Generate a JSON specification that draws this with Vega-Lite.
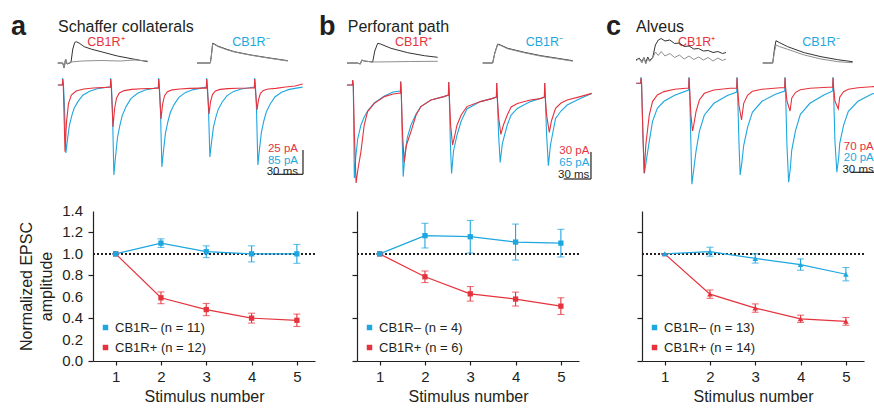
{
  "$schema": "https://vega.github.io/schema/vega-lite/v6.json",
  "padding": {"left": 10, "top": 0, "right": 5, "bottom": 3},
  "config": {
    "font": "Liberation Sans",
    "view": {"stroke": null},
    "axis": {"grid": false, "domainColor": "#231f20", "tickColor": "#231f20", "labelColor": "#231f20", "titleColor": "#231f20", "labelFontSize": 15, "titleFontSize": 16, "titleFontWeight": "normal", "labelFont": "Liberation Sans", "titleFont": "Liberation Sans", "tickSize": 4, "domainWidth": 1.2, "tickWidth": 1.2},
    "legend": {"symbolType": "square", "symbolSize": 30, "labelFontSize": 13, "labelColor": "#231f20", "labelFont": "Liberation Sans", "padding": 0, "rowPadding": 6, "labelOffset": 3, "symbolStrokeWidth": 0, "symbolOpacity": 1}
  },
  "datasets": {
    "a_r": [{"t":-5,"v":0},{"t":-0.3,"v":0},{"t":0,"v":0.3},{"t":0.6,"v":0},{"t":2.4,"v":-3.335},{"t":4,"v":-1.83},{"t":6,"v":-0.93},{"t":9,"v":-0.5},{"t":14,"v":-0.3},{"t":22,"v":-0.2},{"t":32,"v":-0.15},{"t":45,"v":-0.12},{"t":49.7,"v":-0.1},
      {"t":50,"v":0.3},{"t":50.6,"v":-0.1},{"t":52.4,"v":-2.1},{"t":54,"v":-1.2},{"t":56,"v":-0.66},{"t":59,"v":-0.4},{"t":64,"v":-0.28},{"t":72,"v":-0.22},{"t":82,"v":-0.19},{"t":95,"v":-0.17},{"t":99.7,"v":-0.15},
      {"t":100,"v":0.3},{"t":100.6,"v":-0.15},{"t":102.4,"v":-1.7},{"t":104,"v":-0.98},{"t":106,"v":-0.55},{"t":109,"v":-0.34},{"t":114,"v":-0.245},{"t":122,"v":-0.2},{"t":132,"v":-0.17},{"t":145,"v":-0.155},{"t":149.7,"v":-0.15},
      {"t":150,"v":0.3},{"t":150.6,"v":-0.15},{"t":152.4,"v":-1.45},{"t":154,"v":-0.84},{"t":156,"v":-0.48},{"t":159,"v":-0.3},{"t":164,"v":-0.22},{"t":172,"v":-0.18},{"t":182,"v":-0.16},{"t":195,"v":-0.15},{"t":199.7,"v":-0.14},
      {"t":200,"v":0.3},{"t":200.6,"v":-0.14},{"t":202.4,"v":-1.25},{"t":204,"v":-0.73},{"t":206,"v":-0.42},{"t":209,"v":-0.27},{"t":214,"v":-0.2},{"t":222,"v":-0.17},{"t":232,"v":-0.1},{"t":242,"v":-0.05},{"t":250,"v":0.05}],
    "a_b": [{"t":-5,"v":0},{"t":-0.3,"v":0},{"t":0,"v":0.35},{"t":0.8,"v":0},{"t":1.8,"v":-1.0},{"t":3.3,"v":-3.4},{"t":5,"v":-2.72},{"t":7,"v":-2.0},{"t":9.5,"v":-1.53},{"t":12,"v":-1.15},{"t":16,"v":-0.82},{"t":21,"v":-0.51},{"t":28,"v":-0.31},{"t":36,"v":-0.19},{"t":48,"v":-0.1},{"t":49.7,"v":-0.09},
      {"t":50,"v":0.35},{"t":50.8,"v":-0.09},{"t":51.8,"v":-1.2},{"t":53.3,"v":-4.5},{"t":55,"v":-3.6},{"t":57,"v":-2.65},{"t":59.5,"v":-2.03},{"t":62,"v":-1.53},{"t":66,"v":-1.08},{"t":71,"v":-0.68},{"t":78,"v":-0.41},{"t":86,"v":-0.25},{"t":98,"v":-0.14},{"t":99.7,"v":-0.13},
      {"t":100,"v":0.35},{"t":100.8,"v":-0.13},{"t":101.8,"v":-1.2},{"t":103.3,"v":-4.1},{"t":105,"v":-3.28},{"t":107,"v":-2.42},{"t":109.5,"v":-1.85},{"t":112,"v":-1.39},{"t":116,"v":-0.98},{"t":121,"v":-0.62},{"t":128,"v":-0.37},{"t":136,"v":-0.23},{"t":148,"v":-0.12},{"t":149.7,"v":-0.11},
      {"t":150,"v":0.35},{"t":150.8,"v":-0.11},{"t":151.8,"v":-1.1},{"t":153.3,"v":-3.6},{"t":155,"v":-2.88},{"t":157,"v":-2.12},{"t":159.5,"v":-1.62},{"t":162,"v":-1.22},{"t":166,"v":-0.86},{"t":171,"v":-0.54},{"t":178,"v":-0.32},{"t":186,"v":-0.2},{"t":198,"v":-0.11},{"t":199.7,"v":-0.1},
      {"t":200,"v":0.35},{"t":200.8,"v":-0.1},{"t":201.8,"v":-1.1},{"t":203.3,"v":-4.0},{"t":205,"v":-3.2},{"t":207,"v":-2.36},{"t":209.5,"v":-1.8},{"t":212,"v":-1.36},{"t":216,"v":-0.96},{"t":221,"v":-0.6},{"t":228,"v":-0.36},{"t":236,"v":-0.22},{"t":248,"v":-0.12},{"t":250,"v":-0.1}],
    "b_r": [{"t":-6,"v":0},{"t":-0.3,"v":0},{"t":0,"v":0.25},{"t":0.6,"v":0},{"t":1.8,"v":-2.5},{"t":3.5,"v":-4.9},{"t":5.5,"v":-4.2},{"t":8.6,"v":-3.33},{"t":12,"v":-2.0},{"t":15.5,"v":-1.33},{"t":22.5,"v":-0.92},{"t":33,"v":-0.58},{"t":42,"v":-0.45},{"t":49.7,"v":-0.4},
      {"t":50,"v":0.17},{"t":50.6,"v":-0.4},{"t":52,"v":-2.5},{"t":53.6,"v":-3.87},{"t":56,"v":-3.0},{"t":60.7,"v":-2.33},{"t":66,"v":-1.5},{"t":71,"v":-1.08},{"t":81.5,"v":-0.75},{"t":95,"v":-0.58},{"t":99.7,"v":-0.5},
      {"t":100,"v":0.15},{"t":100.6,"v":-0.5},{"t":102,"v":-2.0},{"t":104,"v":-3.0},{"t":106,"v":-2.6},{"t":108.7,"v":-2.0},{"t":113,"v":-1.5},{"t":119,"v":-1.08},{"t":133,"v":-0.83},{"t":145,"v":-0.68},{"t":149.7,"v":-0.6},
      {"t":150,"v":0.1},{"t":150.6,"v":-0.6},{"t":152,"v":-1.6},{"t":154.3,"v":-2.47},{"t":157,"v":-2.0},{"t":161,"v":-1.5},{"t":165,"v":-1.1},{"t":171.5,"v":-0.92},{"t":185,"v":-0.75},{"t":195.5,"v":-0.68},{"t":199.7,"v":-0.6},
      {"t":200,"v":0.1},{"t":200.6,"v":-0.6},{"t":202,"v":-1.5},{"t":204.8,"v":-2.37},{"t":207,"v":-1.8},{"t":211.3,"v":-1.17},{"t":217,"v":-0.9},{"t":223.4,"v":-0.75},{"t":237,"v":-0.58},{"t":249,"v":-0.42}],
    "b_b": [{"t":-6,"v":0},{"t":-0.3,"v":0},{"t":0,"v":0.25},{"t":0.6,"v":0},{"t":1.7,"v":-4.65},{"t":3.2,"v":-3.6},{"t":5.2,"v":-2.7},{"t":8.6,"v":-2.0},{"t":12,"v":-1.6},{"t":15.5,"v":-1.3},{"t":22.5,"v":-0.9},{"t":33,"v":-0.55},{"t":42,"v":-0.35},{"t":49.7,"v":-0.3},
      {"t":50,"v":0.17},{"t":50.6,"v":-0.3},{"t":51.5,"v":-2.5},{"t":52.6,"v":-4.58},{"t":54.5,"v":-3.4},{"t":57,"v":-2.6},{"t":60.7,"v":-2.0},{"t":66,"v":-1.45},{"t":71,"v":-1.08},{"t":81.5,"v":-0.75},{"t":95,"v":-0.58},{"t":99.7,"v":-0.5},
      {"t":100,"v":0.15},{"t":100.6,"v":-0.5},{"t":101.8,"v":-3.0},{"t":103,"v":-4.42},{"t":105,"v":-3.3},{"t":108.7,"v":-2.5},{"t":113,"v":-1.8},{"t":119,"v":-1.2},{"t":133,"v":-0.83},{"t":145,"v":-0.68},{"t":149.7,"v":-0.6},
      {"t":150,"v":0.1},{"t":150.6,"v":-0.6},{"t":152,"v":-2.5},{"t":153.6,"v":-3.87},{"t":156,"v":-2.9},{"t":161,"v":-2.0},{"t":165,"v":-1.5},{"t":171.5,"v":-1.17},{"t":185,"v":-0.83},{"t":195.5,"v":-0.68},{"t":199.7,"v":-0.6},
      {"t":200,"v":0.1},{"t":200.6,"v":-0.6},{"t":202,"v":-2.5},{"t":203.8,"v":-4.03},{"t":206,"v":-3.0},{"t":211.3,"v":-1.67},{"t":217,"v":-1.3},{"t":223.4,"v":-1.0},{"t":237,"v":-0.67},{"t":249,"v":-0.42}],
    "c_r": [{"t":-5,"v":0.085},{"t":-0.3,"v":0.085},{"t":0,"v":0.35},{"t":0.6,"v":0.085},{"t":2,"v":-2.5},{"t":3.3,"v":-4.415},{"t":5,"v":-3.0},{"t":8.6,"v":-1.5},{"t":12,"v":-0.83},{"t":17,"v":-0.5},{"t":24,"v":-0.33},{"t":35,"v":-0.215},{"t":49.7,"v":-0.15},
      {"t":50,"v":0.35},{"t":50.6,"v":-0.15},{"t":52,"v":-1.5},{"t":53.7,"v":-2.3},{"t":55,"v":-2.0},{"t":57.3,"v":-1.33},{"t":60.8,"v":-0.75},{"t":66,"v":-0.415},{"t":76,"v":-0.25},{"t":93,"v":-0.165},{"t":99.7,"v":-0.15},
      {"t":100,"v":0.35},{"t":100.6,"v":-0.15},{"t":102,"v":-1.0},{"t":104.7,"v":-1.75},{"t":107,"v":-0.915},{"t":111,"v":-0.515},{"t":116,"v":-0.315},{"t":126,"v":-0.215},{"t":145,"v":-0.14},{"t":149.7,"v":-0.13},
      {"t":150,"v":0.35},{"t":150.6,"v":-0.13},{"t":152,"v":-0.8},{"t":155.3,"v":-1.3},{"t":157,"v":-0.665},{"t":161,"v":-0.365},{"t":166,"v":-0.24},{"t":176,"v":-0.165},{"t":195,"v":-0.115},{"t":199.7,"v":-0.11},
      {"t":200,"v":0.35},{"t":200.6,"v":-0.11},{"t":202,"v":-0.8},{"t":205.5,"v":-1.2},{"t":207,"v":-0.615},{"t":211,"v":-0.34},{"t":216,"v":-0.215},{"t":226,"v":-0.14},{"t":240,"v":-0.09},{"t":250,"v":-0.05}],
    "c_b": [{"t":-5,"v":0.085},{"t":-0.3,"v":0.085},{"t":0,"v":0.4},{"t":0.6,"v":0.085},{"t":2,"v":-2.5},{"t":3.5,"v":-4.415},{"t":5.5,"v":-3.8},{"t":8.6,"v":-2.815},{"t":12,"v":-1.815},{"t":17,"v":-1.165},{"t":24,"v":-0.815},{"t":35,"v":-0.515},{"t":49.7,"v":-0.25},
      {"t":50,"v":0.4},{"t":50.6,"v":-0.25},{"t":52,"v":-3.0},{"t":53,"v":-4.965},{"t":55,"v":-4.2},{"t":57.3,"v":-3.315},{"t":60.8,"v":-2.315},{"t":66,"v":-1.5},{"t":76,"v":-0.915},{"t":90,"v":-0.53},{"t":99.7,"v":-0.35},
      {"t":100,"v":0.4},{"t":100.6,"v":-0.35},{"t":102,"v":-2.8},{"t":103.3,"v":-4.5},{"t":105,"v":-3.9},{"t":107,"v":-3.015},{"t":111,"v":-2.115},{"t":116,"v":-1.365},{"t":126,"v":-0.815},{"t":140,"v":-0.465},{"t":149.7,"v":-0.3},
      {"t":150,"v":0.4},{"t":150.6,"v":-0.3},{"t":152,"v":-3.0},{"t":153.8,"v":-4.865},{"t":155.5,"v":-4.2},{"t":157,"v":-3.265},{"t":161,"v":-2.265},{"t":166,"v":-1.465},{"t":176,"v":-0.915},{"t":190,"v":-0.515},{"t":199.7,"v":-0.3},
      {"t":200,"v":0.4},{"t":200.6,"v":-0.3},{"t":202,"v":-2.8},{"t":204,"v":-4.365},{"t":206,"v":-3.6},{"t":207,"v":-2.915},{"t":211,"v":-2.015},{"t":216,"v":-1.315},{"t":226,"v":-0.815},{"t":240,"v":-0.465},{"t":250,"v":-0.3}],
    "a_i": [{"k":"+d","t":-5.2,"u":0},{"k":"+d","t":0,"u":0},{"k":"+d","t":1.5,"u":-0.5},{"k":"+d","t":3,"u":0.4},{"k":"+d","t":4.5,"u":-0.1},{"k":"+d","t":8.6,"u":0.05},{"k":"+d","t":10.5,"u":1.4},{"k":"+d","t":12.5,"u":2.05},{"k":"+d","t":14,"u":2.13},{"k":"+d","t":17,"u":2.0},{"k":"+d","t":22.5,"u":1.63},{"k":"+d","t":30,"u":1.38},{"k":"+d","t":40,"u":1.13},{"k":"+d","t":57,"u":0.7},{"k":"+d","t":75,"u":0.37},{"k":"+d","t":88.5,"u":0.13},
      {"k":"+l","t":-5.2,"u":0},{"k":"+l","t":0,"u":0},{"k":"+l","t":1.5,"u":-0.5},{"k":"+l","t":3,"u":0.4},{"k":"+l","t":4.5,"u":-0.1},{"k":"+l","t":8.6,"u":0.1},{"k":"+l","t":20,"u":0.2},{"k":"+l","t":40,"u":0.25},{"k":"+l","t":60,"u":0.2},{"k":"+l","t":75,"u":0.3},{"k":"+l","t":88.5,"u":0.2},
      {"k":"-d","t":139.9,"u":0},{"k":"-d","t":153.8,"u":0},{"k":"-d","t":155,"u":0.9},{"k":"-d","t":156.2,"u":1.97},{"k":"-d","t":158,"u":1.9},{"k":"-d","t":161.5,"u":1.7},{"k":"-d","t":170,"u":1.4},{"k":"-d","t":178.8,"u":1.13},{"k":"-d","t":196,"u":0.8},{"k":"-d","t":213.5,"u":0.53},{"k":"-d","t":234.4,"u":0.23},
      {"k":"-l","t":139.9,"u":0},{"k":"-l","t":153.8,"u":0},{"k":"-l","t":155,"u":0.8},{"k":"-l","t":156.2,"u":1.9},{"k":"-l","t":158,"u":1.85},{"k":"-l","t":161.5,"u":1.65},{"k":"-l","t":170,"u":1.35},{"k":"-l","t":178.8,"u":1.1},{"k":"-l","t":196,"u":0.78},{"k":"-l","t":213.5,"u":0.5},{"k":"-l","t":234.4,"u":0.2}],
    "b_i": [{"k":"+d","t":-5.9,"u":0},{"k":"+d","t":5,"u":0},{"k":"+d","t":8,"u":-0.1},{"k":"+d","t":9.5,"u":0.3},{"k":"+d","t":12,"u":0.2},{"k":"+d","t":20.8,"u":0.1},{"k":"+d","t":23,"u":1.2},{"k":"+d","t":26,"u":1.97},{"k":"+d","t":29,"u":1.9},{"k":"+d","t":39.9,"u":1.47},{"k":"+d","t":57.3,"u":1.03},{"k":"+d","t":74.6,"u":0.73},{"k":"+d","t":88.5,"u":0.57},
      {"k":"+l","t":-5.9,"u":0},{"k":"+l","t":5,"u":0},{"k":"+l","t":8,"u":-0.1},{"k":"+l","t":9.5,"u":0.3},{"k":"+l","t":12,"u":0.2},{"k":"+l","t":20.8,"u":0.1},{"k":"+l","t":40,"u":0.12},{"k":"+l","t":60,"u":0.15},{"k":"+l","t":88.5,"u":0.17},
      {"k":"-d","t":135.4,"u":0},{"k":"-d","t":145.8,"u":0},{"k":"-d","t":148,"u":1.0},{"k":"-d","t":151,"u":1.9},{"k":"-d","t":154,"u":1.8},{"k":"-d","t":161.5,"u":1.47},{"k":"-d","t":178.8,"u":1.07},{"k":"-d","t":196,"u":0.73},{"k":"-d","t":213.5,"u":0.47},{"k":"-d","t":229.2,"u":0.23},
      {"k":"-l","t":135.4,"u":0},{"k":"-l","t":145.8,"u":0},{"k":"-l","t":148,"u":0.95},{"k":"-l","t":151,"u":1.85},{"k":"-l","t":154,"u":1.75},{"k":"-l","t":161.5,"u":1.42},{"k":"-l","t":178.8,"u":1.02},{"k":"-l","t":196,"u":0.68},{"k":"-l","t":213.5,"u":0.42},{"k":"-l","t":229.2,"u":0.18}],
    "c_i": [{"k":"+d","t":-5.2,"u":0.3},{"k":"+d","t":-2,"u":0.5},{"k":"+d","t":1,"u":0.15},{"k":"+d","t":3,"u":0.55},{"k":"+d","t":5,"u":0.05},{"k":"+d","t":7,"u":0.6},{"k":"+d","t":9,"u":0.25},{"k":"+d","t":12.2,"u":0.55},{"k":"+d","t":15,"u":1.8},{"k":"+d","t":18,"u":2.3},{"k":"+d","t":21,"u":2.45},{"k":"+d","t":25,"u":2.2},{"k":"+d","t":30,"u":2.3},{"k":"+d","t":35,"u":1.95},{"k":"+d","t":40,"u":2.0},{"k":"+d","t":45,"u":1.65},{"k":"+d","t":50,"u":1.7},{"k":"+d","t":55,"u":1.4},{"k":"+d","t":60,"u":1.45},{"k":"+d","t":65,"u":1.2},{"k":"+d","t":70,"u":1.25},{"k":"+d","t":75,"u":1.05},{"k":"+d","t":80,"u":1.15},{"k":"+d","t":85,"u":0.95},{"k":"+d","t":88.5,"u":1.05},
      {"k":"+l","t":-5.2,"u":0.2},{"k":"+l","t":-2,"u":0.45},{"k":"+l","t":1,"u":0.0},{"k":"+l","t":3,"u":0.5},{"k":"+l","t":5,"u":-0.1},{"k":"+l","t":7,"u":0.45},{"k":"+l","t":9,"u":0.15},{"k":"+l","t":12.2,"u":0.5},{"k":"+l","t":15,"u":1.1},{"k":"+l","t":18,"u":0.75},{"k":"+l","t":21,"u":1.15},{"k":"+l","t":25,"u":0.7},{"k":"+l","t":30,"u":0.95},{"k":"+l","t":35,"u":0.55},{"k":"+l","t":40,"u":0.8},{"k":"+l","t":45,"u":0.4},{"k":"+l","t":50,"u":0.7},{"k":"+l","t":55,"u":0.35},{"k":"+l","t":60,"u":0.6},{"k":"+l","t":65,"u":0.3},{"k":"+l","t":70,"u":0.55},{"k":"+l","t":75,"u":0.2},{"k":"+l","t":80,"u":0.5},{"k":"+l","t":85,"u":0.25},{"k":"+l","t":88.5,"u":0.4},
      {"k":"-d","t":126.8,"u":0},{"k":"-d","t":137.2,"u":0},{"k":"-d","t":139,"u":1.4},{"k":"-d","t":140.6,"u":2.23},{"k":"-d","t":144,"u":2.05},{"k":"-d","t":152.8,"u":1.63},{"k":"-d","t":170.1,"u":1.03},{"k":"-d","t":187.5,"u":0.63},{"k":"-d","t":204.9,"u":0.33},{"k":"-d","t":220.5,"u":0.13},
      {"k":"-l","t":126.8,"u":0},{"k":"-l","t":137.2,"u":0},{"k":"-l","t":139,"u":1.1},{"k":"-l","t":140.6,"u":1.8},{"k":"-l","t":144,"u":1.65},{"k":"-l","t":152.8,"u":1.37},{"k":"-l","t":170.1,"u":0.8},{"k":"-l","t":187.5,"u":0.4},{"k":"-l","t":204.9,"u":0.13},{"k":"-l","t":220.5,"u":0.03}],
    "yticks": [{"val": 0, "lab": "0.0"}, {"val": 0.2, "lab": "0.2"}, {"val": 0.4, "lab": "0.4"}, {"val": 0.6, "lab": "0.6"}, {"val": 0.8, "lab": "0.8"}, {"val": 1.0, "lab": "1.0"}, {"val": 1.2, "lab": "1.2"}, {"val": 1.4, "lab": "1.4"}],
    "a_ep": [{"g":"CB1R+ (n = 12)","s":1,"m":1.0,"e":0},{"g":"CB1R+ (n = 12)","s":2,"m":0.59,"e":0.055},{"g":"CB1R+ (n = 12)","s":3,"m":0.48,"e":0.057},{"g":"CB1R+ (n = 12)","s":4,"m":0.40,"e":0.046},{"g":"CB1R+ (n = 12)","s":5,"m":0.38,"e":0.058},
      {"g":"CB1R– (n = 11)","s":1,"m":1.0,"e":0},{"g":"CB1R– (n = 11)","s":2,"m":1.10,"e":0.04},{"g":"CB1R– (n = 11)","s":3,"m":1.02,"e":0.055},{"g":"CB1R– (n = 11)","s":4,"m":1.0,"e":0.075},{"g":"CB1R– (n = 11)","s":5,"m":1.0,"e":0.088}],
    "b_ep": [{"g":"CB1R+ (n = 6)","s":1,"m":1.0,"e":0},{"g":"CB1R+ (n = 6)","s":2,"m":0.786,"e":0.054},{"g":"CB1R+ (n = 6)","s":3,"m":0.627,"e":0.068},{"g":"CB1R+ (n = 6)","s":4,"m":0.578,"e":0.065},{"g":"CB1R+ (n = 6)","s":5,"m":0.512,"e":0.078},
      {"g":"CB1R– (n = 4)","s":1,"m":1.0,"e":0},{"g":"CB1R– (n = 4)","s":2,"m":1.17,"e":0.115},{"g":"CB1R– (n = 4)","s":3,"m":1.16,"e":0.152},{"g":"CB1R– (n = 4)","s":4,"m":1.11,"e":0.168},{"g":"CB1R– (n = 4)","s":5,"m":1.10,"e":0.129}],
    "c_ep": [{"g":"CB1R+ (n = 14)","s":1,"m":1.0,"e":0},{"g":"CB1R+ (n = 14)","s":2,"m":0.624,"e":0.039},{"g":"CB1R+ (n = 14)","s":3,"m":0.494,"e":0.039},{"g":"CB1R+ (n = 14)","s":4,"m":0.394,"e":0.034},{"g":"CB1R+ (n = 14)","s":5,"m":0.37,"e":0.036},
      {"g":"CB1R– (n = 13)","s":1,"m":1.0,"e":0},{"g":"CB1R– (n = 13)","s":2,"m":1.02,"e":0.042},{"g":"CB1R– (n = 13)","s":3,"m":0.957,"e":0.043},{"g":"CB1R– (n = 13)","s":4,"m":0.90,"e":0.053},{"g":"CB1R– (n = 13)","s":5,"m":0.81,"e":0.062}]
  },
  "columns": 3,
  "spacing": {"row": 21, "column": 20},
  "bounds": "flush",
  "align": "each",
  "resolve": {"scale": {"color": "independent"}, "legend": {"color": "independent"}},
  "concat": [
    {
      "width": 244, "height": 190,
      "layer": [
        {"layer": [
          {"data": {"name": "a_b"}, "mark": {"type": "line", "color": "#1ea7de", "strokeWidth": 1.1}, "encoding": {"x": {"field": "t", "type": "quantitative", "scale": {"domain": [31.56, 285.73], "nice": false, "zero": false}, "axis": null}, "y": {"field": "v", "type": "quantitative", "scale": {"domain": [-5.25, 4.25], "nice": false, "zero": false}, "axis": null}}},
          {"data": {"name": "a_r"}, "mark": {"type": "line", "color": "#e5333d", "strokeWidth": 1.1}, "encoding": {"x": {"field": "t", "type": "quantitative", "axis": null}, "y": {"field": "v", "type": "quantitative", "axis": null}}},
          {"data": {"values": [{}]}, "mark": {"type": "text", "text": "a", "fontSize": 27, "fontWeight": "bold", "align": "left", "color": "#231f20"}, "encoding": {"x": {"datum": -53.9, "type": "quantitative", "axis": null}, "y": {"datum": 2.9, "type": "quantitative", "axis": null}}},
          {"data": {"values": [{}]}, "mark": {"type": "text", "text": "Schaffer collaterals", "fontSize": 16, "align": "left", "color": "#231f20"}, "encoding": {"x": {"datum": -4.9, "type": "quantitative", "axis": null}, "y": {"datum": 2.9, "type": "quantitative", "axis": null}}},
          {"data": {"values": [{}]}, "mark": {"type": "text", "text": "CB1R⁺", "fontSize": 12.5, "align": "center", "color": "#e5333d"}, "encoding": {"x": {"datum": 45, "type": "quantitative", "axis": null}, "y": {"datum": 2.15, "type": "quantitative", "axis": null}}},
          {"data": {"values": [{}]}, "mark": {"type": "text", "text": "CB1R⁻", "fontSize": 12.5, "align": "center", "color": "#1ea7de"}, "encoding": {"x": {"datum": 196.1, "type": "quantitative", "axis": null}, "y": {"datum": 2.15, "type": "quantitative", "axis": null}}},
          {"data": {"values": [{}]}, "mark": {"type": "text", "text": "25 pA", "fontSize": 11.5, "align": "right", "color": "#e5333d"}, "encoding": {"x": {"datum": 245.1, "type": "quantitative", "axis": null}, "y": {"datum": -3.2, "type": "quantitative", "axis": null}}},
          {"data": {"values": [{}]}, "mark": {"type": "text", "text": "85 pA", "fontSize": 11.5, "align": "right", "color": "#1ea7de"}, "encoding": {"x": {"datum": 245.1, "type": "quantitative", "axis": null}, "y": {"datum": -3.78, "type": "quantitative", "axis": null}}},
          {"data": {"values": [{}]}, "mark": {"type": "text", "text": "30 ms", "fontSize": 11.5, "align": "right", "color": "#231f20"}, "encoding": {"x": {"datum": 245.1, "type": "quantitative", "axis": null}, "y": {"datum": -4.36, "type": "quantitative", "axis": null}}},
          {"data": {"values": [{}]}, "mark": {"type": "rule", "color": "#231f20", "strokeWidth": 1.2}, "encoding": {"x": {"datum": 219.1, "type": "quantitative", "axis": null}, "x2": {"datum": 250.3}, "y": {"datum": -4.465, "type": "quantitative", "axis": null}}},
          {"data": {"values": [{}]}, "mark": {"type": "rule", "color": "#231f20", "strokeWidth": 1.2}, "encoding": {"x": {"datum": 250.3, "type": "quantitative", "axis": null}, "y": {"datum": -3.25, "type": "quantitative", "axis": null}, "y2": {"datum": -4.465}}}
        ]},
        {"data": {"name": "a_i"}, "mark": {"type": "line", "strokeWidth": 1}, "encoding": {"x": {"field": "t", "type": "quantitative", "scale": {"domain": [31.56, 285.73], "nice": false, "zero": false}, "axis": null}, "y": {"field": "u", "type": "quantitative", "scale": {"domain": [-12.7, 6.3], "nice": false, "zero": false}, "axis": null}, "color": {"field": "k", "type": "nominal", "scale": {"domain": ["+l", "+d", "-l", "-d"], "range": ["#8f8f8f", "#333333", "#8f8f8f", "#333333"]}, "legend": null}}}
      ],
      "resolve": {"scale": {"y": "independent"}}
    },
    {
      "width": 265, "height": 190,
      "layer": [
        {"layer": [
          {"data": {"name": "b_b"}, "mark": {"type": "line", "color": "#1ea7de", "strokeWidth": 1.1}, "encoding": {"x": {"field": "t", "type": "quantitative", "scale": {"domain": [4.48, 280.52], "nice": false, "zero": false}, "axis": null}, "y": {"field": "v", "type": "quantitative", "scale": {"domain": [-5.25, 4.25], "nice": false, "zero": false}, "axis": null}}},
          {"data": {"name": "b_r"}, "mark": {"type": "line", "color": "#e5333d", "strokeWidth": 1.1}, "encoding": {"x": {"field": "t", "type": "quantitative", "axis": null}, "y": {"field": "v", "type": "quantitative", "axis": null}}},
          {"data": {"values": [{}]}, "mark": {"type": "text", "text": "b", "fontSize": 27, "fontWeight": "bold", "align": "left", "color": "#231f20"}, "encoding": {"x": {"datum": -35.1, "type": "quantitative", "axis": null}, "y": {"datum": 2.9, "type": "quantitative", "axis": null}}},
          {"data": {"values": [{}]}, "mark": {"type": "text", "text": "Perforant path", "fontSize": 16, "align": "left", "color": "#231f20"}, "encoding": {"x": {"datum": -5.2, "type": "quantitative", "axis": null}, "y": {"datum": 2.9, "type": "quantitative", "axis": null}}},
          {"data": {"values": [{}]}, "mark": {"type": "text", "text": "CB1R⁺", "fontSize": 12.5, "align": "center", "color": "#e5333d"}, "encoding": {"x": {"datum": 63.5, "type": "quantitative", "axis": null}, "y": {"datum": 2.15, "type": "quantitative", "axis": null}}},
          {"data": {"values": [{}]}, "mark": {"type": "text", "text": "CB1R⁻", "fontSize": 12.5, "align": "center", "color": "#1ea7de"}, "encoding": {"x": {"datum": 199.6, "type": "quantitative", "axis": null}, "y": {"datum": 2.15, "type": "quantitative", "axis": null}}},
          {"data": {"values": [{}]}, "mark": {"type": "text", "text": "30 pA", "fontSize": 11.5, "align": "right", "color": "#e5333d"}, "encoding": {"x": {"datum": 246.5, "type": "quantitative", "axis": null}, "y": {"datum": -3.3, "type": "quantitative", "axis": null}}},
          {"data": {"values": [{}]}, "mark": {"type": "text", "text": "65 pA", "fontSize": 11.5, "align": "right", "color": "#1ea7de"}, "encoding": {"x": {"datum": 246.5, "type": "quantitative", "axis": null}, "y": {"datum": -3.9, "type": "quantitative", "axis": null}}},
          {"data": {"values": [{}]}, "mark": {"type": "text", "text": "30 ms", "fontSize": 11.5, "align": "right", "color": "#231f20"}, "encoding": {"x": {"datum": 246.5, "type": "quantitative", "axis": null}, "y": {"datum": -4.5, "type": "quantitative", "axis": null}}},
          {"data": {"values": [{}]}, "mark": {"type": "rule", "color": "#231f20", "strokeWidth": 1.2}, "encoding": {"x": {"datum": 219.8, "type": "quantitative", "axis": null}, "x2": {"datum": 248.2}, "y": {"datum": -4.7, "type": "quantitative", "axis": null}}},
          {"data": {"values": [{}]}, "mark": {"type": "rule", "color": "#231f20", "strokeWidth": 1.2}, "encoding": {"x": {"datum": 248.2, "type": "quantitative", "axis": null}, "y": {"datum": -3.35, "type": "quantitative", "axis": null}, "y2": {"datum": -4.7}}}
        ]},
        {"data": {"name": "b_i"}, "mark": {"type": "line", "strokeWidth": 1}, "encoding": {"x": {"field": "t", "type": "quantitative", "scale": {"domain": [4.48, 280.52], "nice": false, "zero": false}, "axis": null}, "y": {"field": "u", "type": "quantitative", "scale": {"domain": [-12.7, 6.3], "nice": false, "zero": false}, "axis": null}, "color": {"field": "k", "type": "nominal", "scale": {"domain": ["+l", "+d", "-l", "-d"], "range": ["#8f8f8f", "#333333", "#8f8f8f", "#333333"]}, "legend": null}}}
      ],
      "resolve": {"scale": {"y": "independent"}}
    },
    {
      "width": 222, "height": 190,
      "layer": [
        {"layer": [
          {"data": {"name": "c_b"}, "mark": {"type": "line", "color": "#1ea7de", "strokeWidth": 1.1}, "encoding": {"x": {"field": "t", "type": "quantitative", "scale": {"domain": [1.04, 232.29], "nice": false, "zero": false}, "axis": null}, "y": {"field": "v", "type": "quantitative", "scale": {"domain": [-5.25, 4.25], "nice": false, "zero": false}, "axis": null}}},
          {"data": {"name": "c_r"}, "mark": {"type": "line", "color": "#e5333d", "strokeWidth": 1.1}, "encoding": {"x": {"field": "t", "type": "quantitative", "axis": null}, "y": {"field": "v", "type": "quantitative", "axis": null}}},
          {"data": {"values": [{}]}, "mark": {"type": "text", "text": "c", "fontSize": 27, "fontWeight": "bold", "align": "left", "color": "#231f20"}, "encoding": {"x": {"datum": -36.5, "type": "quantitative", "axis": null}, "y": {"datum": 2.9, "type": "quantitative", "axis": null}}},
          {"data": {"values": [{}]}, "mark": {"type": "text", "text": "Alveus", "fontSize": 16, "align": "left", "color": "#231f20"}, "encoding": {"x": {"datum": -5.2, "type": "quantitative", "axis": null}, "y": {"datum": 2.9, "type": "quantitative", "axis": null}}},
          {"data": {"values": [{}]}, "mark": {"type": "text", "text": "CB1R⁺", "fontSize": 12.5, "align": "center", "color": "#e5333d"}, "encoding": {"x": {"datum": 58, "type": "quantitative", "axis": null}, "y": {"datum": 2.15, "type": "quantitative", "axis": null}}},
          {"data": {"values": [{}]}, "mark": {"type": "text", "text": "CB1R⁻", "fontSize": 12.5, "align": "center", "color": "#1ea7de"}, "encoding": {"x": {"datum": 187.5, "type": "quantitative", "axis": null}, "y": {"datum": 2.15, "type": "quantitative", "axis": null}}},
          {"data": {"values": [{}]}, "mark": {"type": "text", "text": "70 pA", "fontSize": 11.5, "align": "right", "color": "#e5333d"}, "encoding": {"x": {"datum": 242.5, "type": "quantitative", "axis": null}, "y": {"datum": -3.1, "type": "quantitative", "axis": null}}},
          {"data": {"values": [{}]}, "mark": {"type": "text", "text": "20 pA", "fontSize": 11.5, "align": "right", "color": "#1ea7de"}, "encoding": {"x": {"datum": 242.5, "type": "quantitative", "axis": null}, "y": {"datum": -3.67, "type": "quantitative", "axis": null}}},
          {"data": {"values": [{}]}, "mark": {"type": "text", "text": "30 ms", "fontSize": 11.5, "align": "right", "color": "#231f20"}, "encoding": {"x": {"datum": 242.5, "type": "quantitative", "axis": null}, "y": {"datum": -4.24, "type": "quantitative", "axis": null}}},
          {"data": {"values": [{}]}, "mark": {"type": "rule", "color": "#231f20", "strokeWidth": 1.2}, "encoding": {"x": {"datum": 218.75, "type": "quantitative", "axis": null}, "x2": {"datum": 250}, "y": {"datum": -4.365, "type": "quantitative", "axis": null}}},
          {"data": {"values": [{}]}, "mark": {"type": "rule", "color": "#231f20", "strokeWidth": 1.2}, "encoding": {"x": {"datum": 250, "type": "quantitative", "axis": null}, "y": {"datum": -3.14, "type": "quantitative", "axis": null}, "y2": {"datum": -4.365}}}
        ]},
        {"data": {"name": "c_i"}, "mark": {"type": "line", "strokeWidth": 1}, "encoding": {"x": {"field": "t", "type": "quantitative", "scale": {"domain": [1.04, 232.29], "nice": false, "zero": false}, "axis": null}, "y": {"field": "u", "type": "quantitative", "scale": {"domain": [-12.7, 6.3], "nice": false, "zero": false}, "axis": null}, "color": {"field": "k", "type": "nominal", "scale": {"domain": ["+l", "+d", "-l", "-d"], "range": ["#8f8f8f", "#333333", "#8f8f8f", "#333333"]}, "legend": null}}}
      ],
      "resolve": {"scale": {"y": "independent"}}
    },
    {
      "width": 222, "height": 150,
      "data": {"name": "a_ep"},
      "layer": [
        {"mark": {"type": "rule", "strokeDash": [1.5, 2.5], "color": "#231f20", "strokeWidth": 1.1}, "encoding": {"y": {"datum": 1, "type": "quantitative", "title": ["Normalized EPSC", "amplitude"], "scale": {"domain": [0, 1.4], "nice": false, "zero": false}, "axis": {"values": [0, 0.2, 0.4, 0.6, 0.8, 1.0, 1.2, 1.4], "labels": false, "tickSize": 5, "titlePadding": 33, "titleLineHeight": 20}}}},
        {"data": {"name": "yticks"}, "mark": {"type": "text", "align": "right", "baseline": "middle", "fontSize": 15, "color": "#231f20"}, "encoding": {"x": {"datum": 0.279, "type": "quantitative"}, "y": {"field": "val", "type": "quantitative", "title": ["Normalized EPSC", "amplitude"]}, "text": {"field": "lab", "type": "nominal"}}},
        {"mark": {"type": "line", "strokeWidth": 1.2}, "encoding": {
          "x": {"field": "s", "type": "quantitative", "title": "Stimulus number", "scale": {"domain": [0.5, 5.4], "nice": false, "zero": false}, "axis": {"values": [1, 2, 3, 4, 5], "format": "d", "labelPadding": 4, "titlePadding": 4}},
          "y": {"field": "m", "type": "quantitative", "title": ["Normalized EPSC", "amplitude"]},
          "color": {"field": "g", "type": "nominal", "scale": {"domain": ["CB1R– (n = 11)", "CB1R+ (n = 12)"], "range": ["#1ea7de", "#e5333d"]}}}},
        {"mark": {"type": "errorbar", "ticks": true, "size": 7, "thickness": 1.1}, "encoding": {"x": {"field": "s", "type": "quantitative", "title": "Stimulus number"}, "y": {"field": "m", "type": "quantitative", "title": ["Normalized EPSC", "amplitude"]}, "yError": {"field": "e"}, "color": {"field": "g", "type": "nominal"}}},
        {"mark": {"type": "point", "filled": true, "shape": "square", "size": 28, "opacity": 1}, "encoding": {"x": {"field": "s", "type": "quantitative", "title": "Stimulus number"}, "y": {"field": "m", "type": "quantitative", "title": ["Normalized EPSC", "amplitude"]}, "color": {"field": "g", "type": "nominal", "legend": {"title": null, "orient": "bottom-left", "offset": 6, "symbolType": "square"}}}}
      ]
    },
    {
      "width": 222, "height": 150,
      "data": {"name": "b_ep"},
      "layer": [
        {"mark": {"type": "rule", "strokeDash": [1.5, 2.5], "color": "#231f20", "strokeWidth": 1.1}, "encoding": {"y": {"datum": 1, "type": "quantitative", "title": null, "scale": {"domain": [0, 1.4], "nice": false, "zero": false}, "axis": {"values": [0, 0.2, 0.4, 0.6, 0.8, 1.0, 1.2, 1.4], "labels": false, "tickSize": 5}}}},
        {"mark": {"type": "line", "strokeWidth": 1.2}, "encoding": {
          "x": {"field": "s", "type": "quantitative", "title": "Stimulus number", "scale": {"domain": [0.5, 5.4], "nice": false, "zero": false}, "axis": {"values": [1, 2, 3, 4, 5], "format": "d", "labelPadding": 4, "titlePadding": 4}},
          "y": {"field": "m", "type": "quantitative", "title": null},
          "color": {"field": "g", "type": "nominal", "scale": {"domain": ["CB1R– (n = 4)", "CB1R+ (n = 6)"], "range": ["#1ea7de", "#e5333d"]}}}},
        {"mark": {"type": "errorbar", "ticks": true, "size": 7, "thickness": 1.1}, "encoding": {"x": {"field": "s", "type": "quantitative", "title": "Stimulus number"}, "y": {"field": "m", "type": "quantitative", "title": null}, "yError": {"field": "e"}, "color": {"field": "g", "type": "nominal"}}},
        {"mark": {"type": "point", "filled": true, "shape": "square", "size": 28, "opacity": 1}, "encoding": {"x": {"field": "s", "type": "quantitative", "title": "Stimulus number"}, "y": {"field": "m", "type": "quantitative", "title": null}, "color": {"field": "g", "type": "nominal", "legend": {"title": null, "orient": "bottom-left", "offset": 6, "symbolType": "square"}}}}
      ]
    },
    {
      "width": 222, "height": 150,
      "data": {"name": "c_ep"},
      "layer": [
        {"mark": {"type": "rule", "strokeDash": [1.5, 2.5], "color": "#231f20", "strokeWidth": 1.1}, "encoding": {"y": {"datum": 1, "type": "quantitative", "title": null, "scale": {"domain": [0, 1.4], "nice": false, "zero": false}, "axis": {"values": [0, 0.1, 0.2, 0.3, 0.4, 0.5, 0.6, 0.7, 0.8, 0.9, 1.0, 1.1, 1.2, 1.3, 1.4], "labels": false, "tickSize": 5}}}},
        {"mark": {"type": "line", "strokeWidth": 1.2}, "encoding": {
          "x": {"field": "s", "type": "quantitative", "title": "Stimulus number", "scale": {"domain": [0.5, 5.4], "nice": false, "zero": false}, "axis": {"values": [1, 2, 3, 4, 5], "format": "d", "labelPadding": 4, "titlePadding": 4}},
          "y": {"field": "m", "type": "quantitative", "title": null},
          "color": {"field": "g", "type": "nominal", "scale": {"domain": ["CB1R– (n = 13)", "CB1R+ (n = 14)"], "range": ["#1ea7de", "#e5333d"]}}}},
        {"mark": {"type": "errorbar", "ticks": true, "size": 7, "thickness": 1.1}, "encoding": {"x": {"field": "s", "type": "quantitative", "title": "Stimulus number"}, "y": {"field": "m", "type": "quantitative", "title": null}, "yError": {"field": "e"}, "color": {"field": "g", "type": "nominal"}}},
        {"mark": {"type": "point", "filled": true, "shape": "triangle-up", "size": 32, "opacity": 1}, "encoding": {"x": {"field": "s", "type": "quantitative", "title": "Stimulus number"}, "y": {"field": "m", "type": "quantitative", "title": null}, "color": {"field": "g", "type": "nominal", "legend": {"title": null, "orient": "bottom-left", "offset": 6, "symbolType": "square"}}}}
      ]
    }
  ]
}
